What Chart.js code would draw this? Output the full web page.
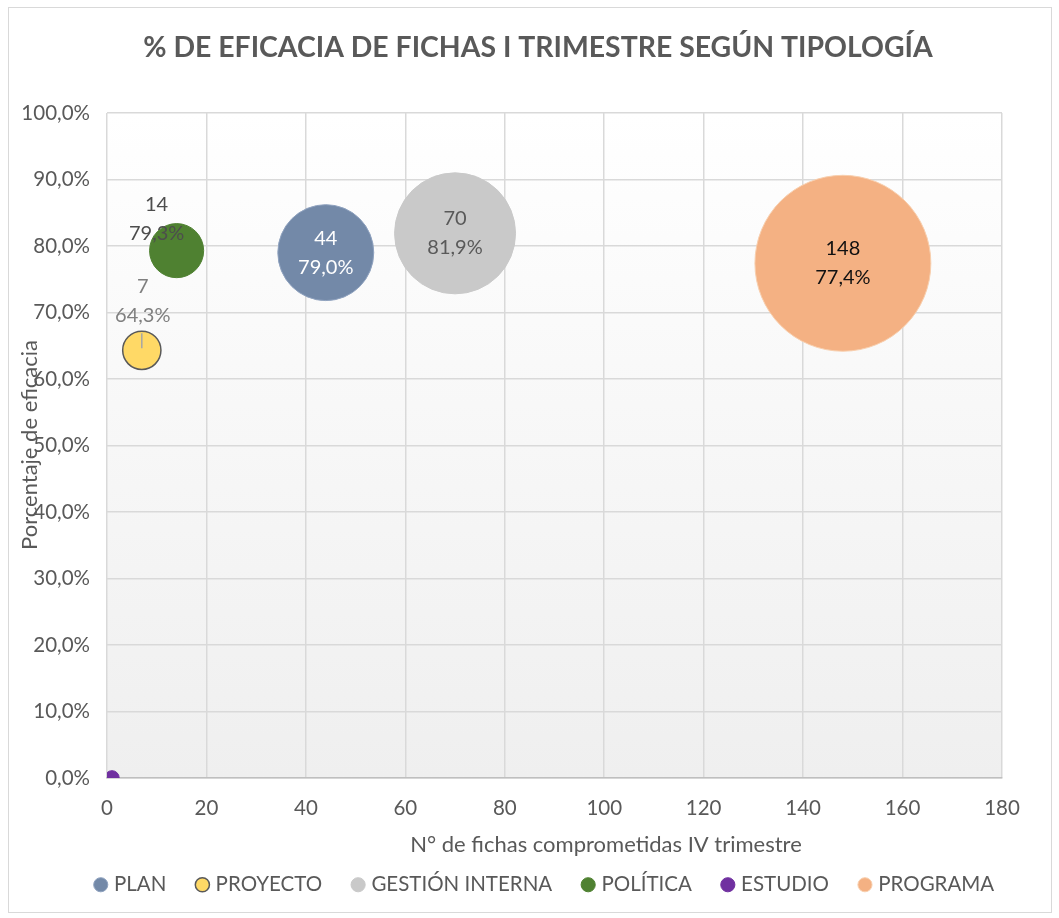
<!DOCTYPE html>
<html>
<head>
<meta charset="utf-8">
<script src="https://cdn.jsdelivr.net/npm/chart.js@4/dist/chart.umd.min.js"></script>
<style>
  html, body { margin: 0; padding: 0; background: #fff; }
  #wrap { width: 1059px; height: 918px; position: relative; }
</style>
</head>
<body>
<div id="wrap"><canvas id="bubbleChart" width="1059" height="918"></canvas></div>
<script>
// datos
const categories = ['PLAN', 'PROYECTO', 'GESTIÓN INTERNA', 'POLÍTICA', 'ESTUDIO', 'PROGRAMA'];
const fichas = [44, 7, 70, 14, 1, 148];
const eficacia = [79.0, 64.3, 81.9, 79.3, 0.0, 77.4];
const xTicks = [0, 20, 40, 60, 80, 100, 120, 140, 160, 180];
const yTicks = [0, 10, 20, 30, 40, 50, 60, 70, 80, 90, 100];

const fillColors = ['#7389a8', '#ffd966', '#c9c9c9', '#4f8131', '#7030a0', '#f4b183'];
const lineColors = ['#8fa2bf', '#595959', '#c9c9c9', '#4f8131', '#7030a0', '#f8cfae'];
const labelColors = ['#ffffff', '#7f7f7f', '#595959', '#4d4d4d', null, '#111111'];
// desplazamiento de la etiqueta respecto al centro de la burbuja
const labelShift = [[0, 0], [1, -49], [0, 0], [-20, -32], null, [0, 0]];

const FONT = 'Lato, "Open Sans", sans-serif';
const GRAY = '#595959';

function fmtPct(v) {
  return v.toFixed(1).replace('.', ',') + '%';
}

const datasets = categories.map((c, i) => ({
  label: c,
  data: [{ x: fichas[i], y: eficacia[i], r: 7.23 * Math.sqrt(fichas[i]) }],
  backgroundColor: fillColors[i],
  borderColor: lineColors[i],
  borderWidth: i === 1 ? 1.5 : 1,
  clip: 0
}));

const decor = {
  id: 'decor',
  afterLayout(chart) {
    // la leyenda de Excel queda algo a la derecha
    chart.legend.left += 45;
    chart.legend.right += 45;
  },
  beforeDraw(chart) {
    const { ctx, chartArea: a } = chart;
    ctx.save();
    ctx.fillStyle = '#fff';
    ctx.fillRect(0, 0, chart.width, chart.height);
    ctx.strokeStyle = '#d9d9d9';
    ctx.lineWidth = 1;
    ctx.strokeRect(8.5, 7.5, 1043, 905);
    const g = ctx.createLinearGradient(0, a.top, 0, a.bottom);
    g.addColorStop(0, '#ffffff');
    g.addColorStop(1, '#efefef');
    ctx.fillStyle = g;
    ctx.fillRect(a.left, a.top, a.right - a.left, a.bottom - a.top);
    ctx.restore();
  },
  afterDraw(chart) {
    const { ctx } = chart;
    ctx.save();
    ctx.textAlign = 'center';
    ctx.textBaseline = 'middle';
    ctx.fillStyle = GRAY;
    ctx.font = 'bold 28.4px ' + FONT;
    ctx.fillText('% DE EFICACIA DE FICHAS I TRIMESTRE SEGÚN TIPOLOGÍA', 538, 48);
    ctx.font = '22px ' + FONT;
    ctx.fillText('N° de fichas comprometidas IV trimestre', 606, 845);
    ctx.translate(30, 445);
    ctx.rotate(-Math.PI / 2);
    ctx.fillText('Porcentaje de eficacia', 0, 0);
    ctx.restore();
  },
  afterDatasetsDraw(chart) {
    const { ctx } = chart;
    ctx.save();
    ctx.font = '20px ' + FONT;
    ctx.textAlign = 'center';
    ctx.textBaseline = 'middle';
    chart.data.datasets.forEach((ds, i) => {
      if (!labelShift[i]) return;
      const el = chart.getDatasetMeta(i).data[0];
      const cx = el.x + labelShift[i][0];
      const cy = el.y + labelShift[i][1];
      if (i === 1) {
        ctx.strokeStyle = '#a6a6a6';
        ctx.lineWidth = 1.5;
        ctx.beginPath();
        ctx.moveTo(el.x, cy + 32);
        ctx.lineTo(el.x, el.y - 2);
        ctx.stroke();
      }
      ctx.fillStyle = labelColors[i];
      ctx.fillText(String(fichas[i]), cx, cy - 14.5);
      ctx.fillText(fmtPct(eficacia[i]), cx, cy + 14.5);
    });
    ctx.restore();
  }
};

const ctx = document.getElementById('bubbleChart');

new Chart(ctx, {
  type: 'bubble',
  data: { datasets: datasets },
  plugins: [decor],
  options: {
    responsive: false,
    animation: false,
    layout: { autoPadding: false, padding: { left: 0, right: 57, top: 113, bottom: 13 } },
    plugins: {
      title: { display: false },
      legend: {
        position: 'bottom',
        labels: {
          usePointStyle: true,
          pointStyle: 'circle',
          boxWidth: 6,
          boxHeight: 10,
          padding: 33,
          color: GRAY,
          font: { family: FONT, size: 20.5 }
        }
      },
      tooltip: { enabled: false }
    },
    scales: {
      x: {
        type: 'linear',
        min: 0,
        max: 180,
        afterBuildTicks: (s) => { s.ticks = xTicks.map(v => ({ value: v })); },
        afterFit: (s) => { s.height = 63.6; s.paddingLeft = 0; s.paddingRight = 0; },
        grid: { color: '#d9d9d9', lineWidth: 1.5, drawTicks: false },
        border: { color: '#bfbfbf', width: 1.5 },
        ticks: { color: GRAY, padding: 18, font: { family: FONT, size: 20.5 } }
      },
      y: {
        type: 'linear',
        min: 0,
        max: 100,
        afterBuildTicks: (s) => { s.ticks = yTicks.map(v => ({ value: v })); },
        afterFit: (s) => { s.width = 107; s.paddingTop = 0; s.paddingBottom = 0; },
        grid: { color: '#d9d9d9', lineWidth: 1.5, drawTicks: false },
        border: { display: false },
        ticks: {
          color: GRAY,
          padding: 17,
          font: { family: FONT, size: 20.5 },
          callback: (v) => fmtPct(v)
        }
      }
    }
  }
});
</script>
</body>
</html>
